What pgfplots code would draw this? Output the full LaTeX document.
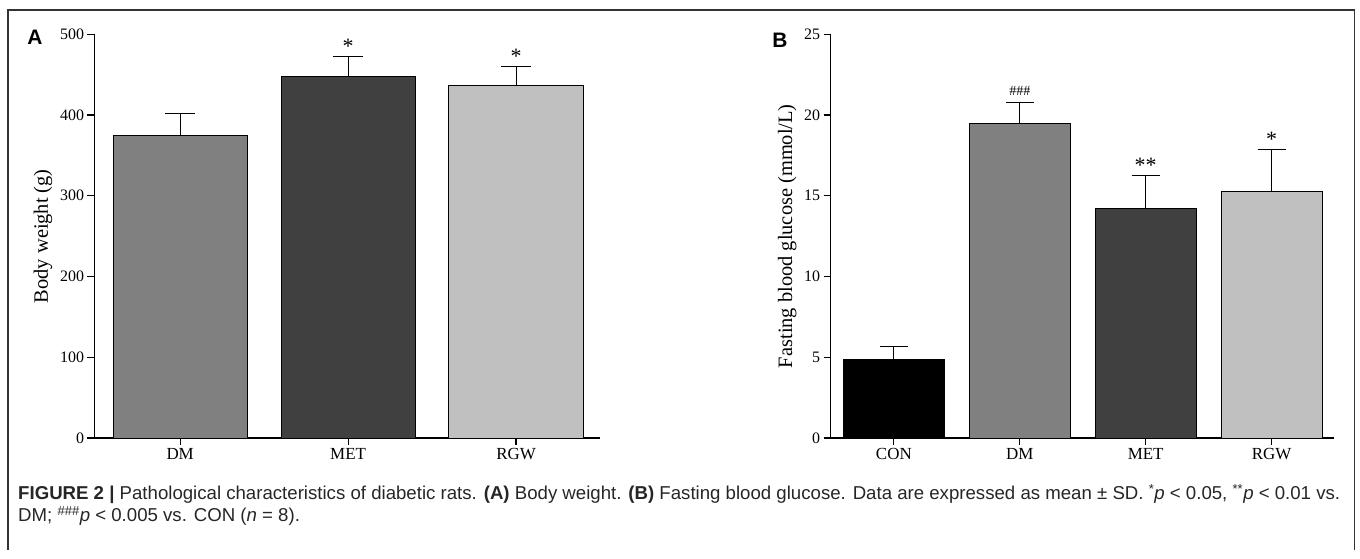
\documentclass[border=0pt]{standalone}
\usepackage{pgfplots}
\pgfplotsset{compat=1.18}
\usepackage{fontspec}
\setmainfont{Liberation Serif}
\newfontfamily\capfont{Liberation Sans}
\definecolor{gA}{HTML}{808080}
\definecolor{gB}{HTML}{404040}
\definecolor{gC}{HTML}{C0C0C0}
\definecolor{frame}{HTML}{333333}
\tikzset{sigstar/.style={font=\fontsize{22}{22}\selectfont, anchor=base, inner sep=0pt, yshift=3bp}}
\pgfplotsset{
  panel/.style={
    scale only axis,
    axis lines=left,
    axis line style={-, line width=1.2bp, black},
    tick align=outside,
    major tick length=7bp,
    tick style={line width=1.2bp, black},
    ymin=0,
    xtick={0,1,2,3},
    ybar,
    bar width=0.8,
    yticklabel style={font=\fontsize{16}{17}\selectfont},
    xticklabel style={font=\fontsize{17}{18}\selectfont},
    /pgf/number format/assume math mode=true,
    clip=false,
  },
  barst/.style={draw=black, line width=0.8bp, bar shift=0pt,
    error bars/y dir=plus, error bars/y explicit,
    error bars/error bar style={line width=0.9bp, black},
    error bars/error mark options={rotate=90, line width=0.9bp, black, mark size=#1}},
}
\begin{document}
\begin{tikzpicture}[x=1bp,y=1bp]
\useasboundingbox (0,0) rectangle (1360,559);
\draw[frame, line width=1.5bp] (8,9) -- (8,549) -- (1354.5,549) -- (1354.5,9);

% Panel A
\begin{axis}[panel,
  at={(94.5bp,121bp)}, anchor=south west,
  width=505bp, height=403.7bp,
  xmin=-0.51, xmax=2.497, ymax=500,
  ytick={0,100,200,300,400,500},
  xticklabels={DM,MET,RGW},
  ylabel={Body weight (g)},
  every axis y label/.style={at={(axis description cs:-0.102,0.5)}, rotate=90, anchor=center, font=\fontsize{20.5}{22}\selectfont},
]
\addplot[barst=15bp, fill=gA] coordinates {(0,375) +- (0,27)};
\addplot[barst=15bp, fill=gB] coordinates {(1,448) +- (0,25)};
\addplot[barst=15bp, fill=gC] coordinates {(2,437) +- (0,23.5)};
\node[sigstar] at (axis cs:1,473) {*};
\node[sigstar] at (axis cs:2,460.5) {*};
\end{axis}

% Panel B
\begin{axis}[panel,
  at={(830.5bp,121bp)}, anchor=south west,
  width=503.5bp, height=403.7bp,
  xmin=-0.503, xmax=3.496, ymax=25,
  ytick={0,5,10,15,20,25},
  xticklabels={CON,DM,MET,RGW},
  ylabel={Fasting blood glucose (mmol/L)},
  every axis y label/.style={at={(axis description cs:-0.086,0.5)}, rotate=90, anchor=center, font=\fontsize{20.5}{22}\selectfont},
]
\addplot[barst=14bp, fill=black] coordinates {(0,4.85) +- (0,0.8)};
\addplot[barst=14bp, fill=gA] coordinates {(1,19.5) +- (0,1.27)};
\addplot[barst=14bp, fill=gB] coordinates {(2,14.2) +- (0,2.07)};
\addplot[barst=14bp, fill=gC] coordinates {(3,15.3) +- (0,2.56)};
\node[font=\fontsize{14}{14}\selectfont, anchor=base, inner sep=0pt, yshift=7bp] at (axis cs:1,20.77) {\#\#\#};
\node[sigstar] at (axis cs:2,16.27) {**};
\node[sigstar] at (axis cs:3,17.86) {*};
\end{axis}

\node[font=\capfont\bfseries\fontsize{21}{21}\selectfont] at (35,521.5) {A};
\node[font=\capfont\bfseries\fontsize{21}{21}\selectfont] at (780,519) {B};

\node[font=\capfont\fontsize{18.7}{22.5}\selectfont, anchor=base west, align=left, inner sep=0pt, text=black!85] at (18,37)
{\textbf{FIGURE 2 |} Pathological characteristics of diabetic rats. \textbf{(A)} Body weight. \textbf{(B)} Fasting blood glucose. Data are expressed as mean ± SD. \textsuperscript{*}\textit{p} < 0.05, \textsuperscript{**}\textit{p} < 0.01 vs.\\
DM; \textsuperscript{\#\#\#}\textit{p} < 0.005 vs. CON (\textit{n} = 8).};
\end{tikzpicture}
\end{document}
